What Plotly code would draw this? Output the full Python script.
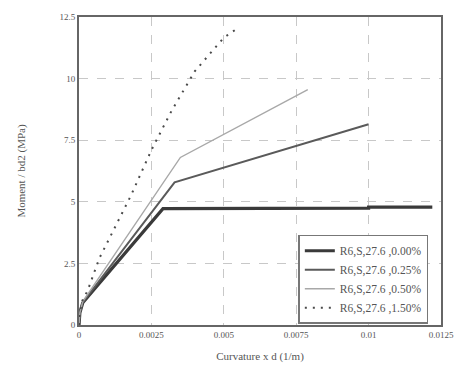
import plotly.graph_objects as go

# Moment-curvature responses for the four fibre contents
names = ["R6,S,27.6 ,0.00%", "R6,S,27.6 ,0.25%", "R6,S,27.6 ,0.50%", "R6,S,27.6 ,1.50%"]

curv_000 = [0, 0.00003, 0.00013, 0.0029, 0.0100, 0.0100, 0.0122]
mom_000 = [0, 0.50, 0.90, 4.72, 4.74, 4.78, 4.78]

curv_025 = [0, 0.00003, 0.00013, 0.0033, 0.0100]
mom_025 = [0, 0.50, 0.92, 5.79, 8.15]

curv_050 = [0, 0.00003, 0.00013, 0.0035, 0.0079]
mom_050 = [0, 0.50, 0.95, 6.80, 9.55]

curv_150 = [0, 0.00003, 0.00012, 0.0003, 0.0007, 0.0018, 0.0025, 0.0032, 0.0040, 0.0050, 0.0055]
mom_150 = [0, 0.50, 1.00, 1.40, 2.70, 5.27, 7.10, 8.70, 10.30, 11.66, 12.06]

x_ticks = [0, 0.0025, 0.005, 0.0075, 0.01, 0.0125]
x_tick_text = ["0", "0.0025", "0.005", "0.0075", "0.01", "0.0125"]
y_ticks = [0, 2.5, 5, 7.5, 10, 12.5]
y_tick_text = ["0", "2.5", "5", "7.5", "10", "12.5"]

series = [
    (curv_000, mom_000, dict(color="#3a3a3a", width=3.2, dash="solid")),
    (curv_025, mom_025, dict(color="#5a5a5a", width=2.0, dash="solid")),
    (curv_050, mom_050, dict(color="#a8a8a8", width=1.4, dash="solid")),
    (curv_150, mom_150, dict(color="#4a4a4a", width=2.0, dash="2px,6px")),
]

fig = go.Figure()
for name, (xs, ys, line) in zip(names, series):
    fig.add_trace(go.Scatter(x=xs, y=ys, mode="lines", name=name, line=line))

serif = "Liberation Serif, Times New Roman, serif"

fig.update_layout(
    width=466,
    height=381,
    margin=dict(l=79, r=19, t=12, b=56),
    paper_bgcolor="white",
    plot_bgcolor="white",
    font=dict(family=serif, size=9, color="#555"),
    showlegend=True,
    legend=dict(
        x=0.965, y=0.004, xanchor="right", yanchor="bottom",
        bgcolor="white", bordercolor="#777", borderwidth=1.5,
        font=dict(family=serif, size=11.5, color="#555"),
        tracegroupgap=0, itemwidth=30,
    ),
    xaxis=dict(
        range=[0, 0.0125], tickvals=x_ticks, ticktext=x_tick_text,
        showgrid=True, gridcolor="#c8c8c8", griddash="dash", gridwidth=1,
        showline=True, linecolor="#666", linewidth=2, mirror=True,
        zeroline=False, ticks="", ticklen=0,
        title=dict(text="Curvature x d (1/m)", font=dict(family=serif, size=11, color="#555"), standoff=14),
    ),
    yaxis=dict(
        range=[0, 12.5], tickvals=y_ticks, ticktext=y_tick_text,
        showgrid=True, gridcolor="#c8c8c8", griddash="dash", gridwidth=1,
        showline=True, linecolor="#666", linewidth=2, mirror=True,
        zeroline=False, ticks="", ticklen=0,
        title=dict(text="Moment / bd2 (MPa)", font=dict(family=serif, size=11, color="#555"), standoff=32),
    ),
)

fig.write_html("out.html")
